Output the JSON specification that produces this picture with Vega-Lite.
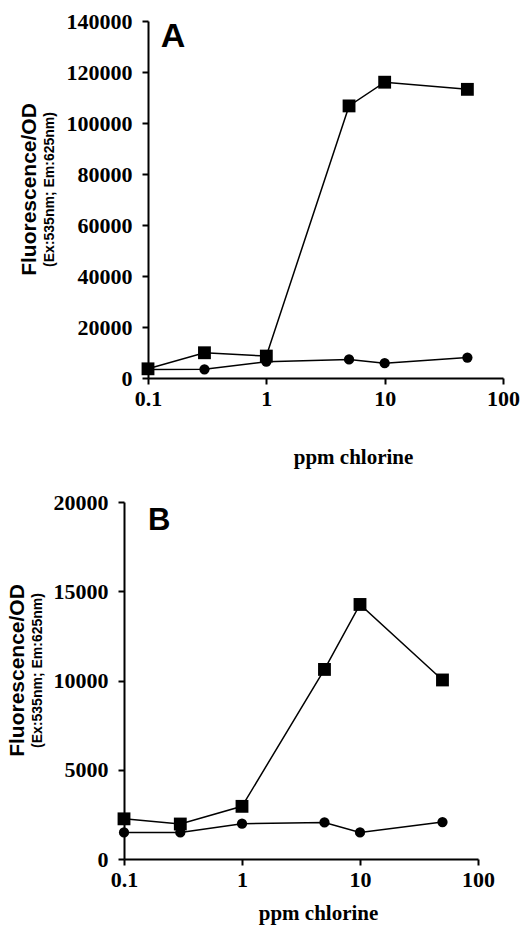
{
  "$schema": "https://vega.github.io/schema/vega-lite/v6.json",
  "padding": {"left": 6, "top": 10, "right": 5, "bottom": 3},
  "spacing": 24,
  "config": {
    "view": {"stroke": null},
    "axis": {
      "grid": false,
      "domainColor": "black",
      "domainWidth": 2,
      "tickColor": "black",
      "tickWidth": 2,
      "tickSize": 6,
      "labelFont": "Liberation Serif",
      "labelFontWeight": "bold",
      "labelFontSize": 22,
      "labelColor": "black",
      "labelPadding": 4,
      "titleFont": "Liberation Serif",
      "titleFontWeight": "bold",
      "titleFontSize": 21,
      "titleColor": "black"
    },
    "title": {
      "orient": "left",
      "font": "Liberation Sans",
      "fontSize": 21,
      "fontWeight": "bold",
      "color": "black",
      "subtitleFont": "Liberation Sans",
      "subtitleFontSize": 14,
      "subtitleFontWeight": "bold",
      "subtitleColor": "black",
      "subtitlePadding": 3,
      "offset": 4,
      "dx": 10
    }
  },
  "datasets": {
    "panelA": [
      {"conc": 0.1, "value": 3600, "series": "square"},
      {"conc": 0.3, "value": 9900, "series": "square"},
      {"conc": 1, "value": 8600, "series": "square"},
      {"conc": 5, "value": 106700, "series": "square"},
      {"conc": 10, "value": 116000, "series": "square"},
      {"conc": 50, "value": 113200, "series": "square"},
      {"conc": 0.1, "value": 3300, "series": "circle"},
      {"conc": 0.3, "value": 3400, "series": "circle"},
      {"conc": 1, "value": 6400, "series": "circle"},
      {"conc": 5, "value": 7300, "series": "circle"},
      {"conc": 10, "value": 5800, "series": "circle"},
      {"conc": 50, "value": 8000, "series": "circle"}
    ],
    "panelB": [
      {"conc": 0.1, "value": 2250, "series": "square"},
      {"conc": 0.3, "value": 1960, "series": "square"},
      {"conc": 1, "value": 2950, "series": "square"},
      {"conc": 5, "value": 10620, "series": "square"},
      {"conc": 10, "value": 14260, "series": "square"},
      {"conc": 50, "value": 10030, "series": "square"},
      {"conc": 0.1, "value": 1490, "series": "circle"},
      {"conc": 0.3, "value": 1490, "series": "circle"},
      {"conc": 1, "value": 1975, "series": "circle"},
      {"conc": 5, "value": 2050, "series": "circle"},
      {"conc": 10, "value": 1490, "series": "circle"},
      {"conc": 50, "value": 2070, "series": "circle"}
    ]
  },
  "vconcat": [
    {
      "width": 355,
      "height": 357,
      "title": {"text": "Fluorescence/OD", "subtitle": "(Ex:535nm; Em:625nm)", "offset": 9},
      "layer": [
        {
          "data": {"name": "panelA"},
          "mark": {"type": "line", "color": "black", "strokeWidth": 1.5},
          "encoding": {
            "x": {
              "field": "conc", "type": "quantitative",
              "scale": {"type": "log", "domain": [0.1, 100], "nice": false},
              "axis": {"values": [0.1, 1, 10, 100], "format": "~g", "title": "ppm chlorine", "titleX": 205, "titlePadding": 37, "labelFlush": false, "labelPadding": 4}
            },
            "y": {
              "field": "value", "type": "quantitative",
              "scale": {"domain": [0, 140000], "nice": false},
              "axis": {"values": [0, 20000, 40000, 60000, 80000, 100000, 120000, 140000], "format": "d", "title": null, "labelPadding": 10}
            },
            "detail": {"field": "series"}
          }
        },
        {
          "data": {"name": "panelA"},
          "mark": {"type": "point", "filled": true, "color": "black", "opacity": 1},
          "encoding": {
            "x": {"field": "conc", "type": "quantitative"},
            "y": {"field": "value", "type": "quantitative"},
            "shape": {"field": "series", "type": "nominal", "scale": {"domain": ["square", "circle"], "range": ["square", "circle"]}, "legend": null},
            "size": {"field": "series", "type": "nominal", "scale": {"domain": ["square", "circle"], "range": [165, 105]}, "legend": null}
          }
        },
        {
          "data": {"values": [{"label": "A"}]},
          "mark": {"type": "text", "align": "left", "baseline": "alphabetic", "font": "Liberation Sans", "fontWeight": "bold", "fontSize": 34, "color": "black"},
          "encoding": {
            "x": {"datum": 0.128},
            "y": {"datum": 130000},
            "text": {"value": "A"}
          }
        }
      ]
    },
    {
      "width": 330,
      "height": 357,
      "title": {"text": "Fluorescence/OD", "subtitle": "(Ex:535nm; Em:625nm)", "offset": 8},
      "layer": [
        {
          "data": {"name": "panelB"},
          "mark": {"type": "line", "color": "black", "strokeWidth": 1.5},
          "encoding": {
            "x": {
              "field": "conc", "type": "quantitative",
              "scale": {"type": "log", "domain": [0.1, 100], "nice": false, "range": [-24, 330]},
              "axis": {"values": [0.1, 1, 10, 100], "format": "~g", "title": "ppm chlorine", "titleX": 170, "titlePadding": 12, "labelFlush": false, "labelPadding": 4}
            },
            "y": {
              "field": "value", "type": "quantitative",
              "scale": {"domain": [0, 20000], "nice": false},
              "axis": {"values": [0, 5000, 10000, 15000, 20000], "format": "d", "title": null, "offset": 24, "labelPadding": 10}
            },
            "detail": {"field": "series"}
          }
        },
        {
          "data": {"name": "panelB"},
          "mark": {"type": "point", "filled": true, "color": "black", "opacity": 1},
          "encoding": {
            "x": {"field": "conc", "type": "quantitative"},
            "y": {"field": "value", "type": "quantitative"},
            "shape": {"field": "series", "type": "nominal", "scale": {"domain": ["square", "circle"], "range": ["square", "circle"]}, "legend": null},
            "size": {"field": "series", "type": "nominal", "scale": {"domain": ["square", "circle"], "range": [165, 105]}, "legend": null}
          }
        },
        {
          "data": {"values": [{"label": "B"}]},
          "mark": {"type": "text", "align": "left", "baseline": "alphabetic", "font": "Liberation Sans", "fontWeight": "bold", "fontSize": 31, "color": "black"},
          "encoding": {
            "x": {"datum": 0.16},
            "y": {"datum": 18430},
            "text": {"value": "B"}
          }
        }
      ]
    }
  ]
}
